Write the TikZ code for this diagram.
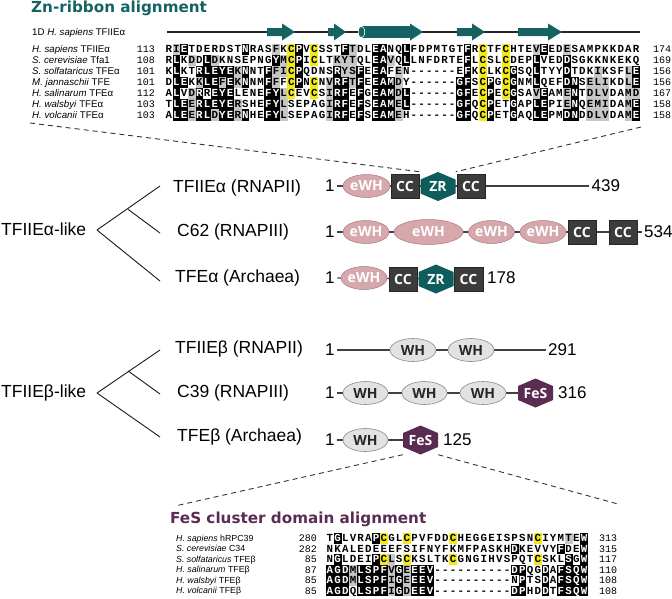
\documentclass[tikz,border=0pt]{standalone}
\usepackage{fontspec}
\setmainfont{Liberation Sans}
\newfontfamily\titlefont{DejaVu Sans}
\newfontfamily\resfont{Liberation Mono}
\newfontfamily\domfont{Open Sans}
\usetikzlibrary{shapes.geometric,backgrounds}

\definecolor{tealc}{RGB}{20,98,98}
\definecolor{hexteal}{RGB}{14,92,92}
\definecolor{fesc}{RGB}{90,44,82}
\definecolor{ewhfill}{RGB}{214,168,172}
\definecolor{ewhdraw}{RGB}{170,120,128}
\definecolor{ccfill}{RGB}{60,60,60}
\definecolor{whfill}{RGB}{226,226,224}
\definecolor{whdraw}{RGB}{140,140,140}
\definecolor{shgray}{RGB}{198,198,198}
\definecolor{shyel}{RGB}{242,234,20}
\definecolor{domline}{RGB}{64,64,64}

\newcount\alncol
\def\alncw{7.66}
\def\alnhw{3.9}
\def\alnhh{5.55}
\def\alnrow#1#2#3#4{\def\alnx{#1}\def\alny{#2}\global\alncol=0 \alnloop#3\relax#4..........\relax}
\def\alnloop#1#2\relax#3#4\relax{\alncell{#1}{#3}\global\advance\alncol by 1 \def\alntmp{#2}\ifx\alntmp\empty\else\alnloop#2\relax#4\relax\fi}
\def\alncell#1#2{%
  \pgfmathsetmacro\alncx{\alnx+\the\alncol*\alncw}%
  \def\alntc{black}%
  \ifx k#2\fill[black] (\alncx-\alnhw,\alny-\alnhh) rectangle (\alncx+\alnhw,\alny+\alnhh);\def\alntc{white}\fi
  \ifx g#2\fill[shgray] (\alncx-\alnhw,\alny-\alnhh) rectangle (\alncx+\alnhw,\alny+\alnhh);\fi
  \ifx y#2\fill[shyel] (\alncx-\alnhw,\alny-\alnhh) rectangle (\alncx+\alnhw,\alny+\alnhh);\fi
  \node[res,text=\alntc] at (\alncx,\alny+3.5) {#1};}

\newcommand\hexdom[5]{%
  \fill[#4] (#2,#3-14.5) -- (#2+17.5,#3-7) -- (#2+17.5,#3+7) -- (#2,#3+14.5) -- (#2-17.5,#3+7) -- (#2-17.5,#3-7) -- cycle;
  \node[hexl] (#1) at (#2,#3) {#5};}
\newcommand\ssarrow[3]{\fill[tealc] (#1,28) -- (#2,28) -- (#2,23.5) -- (#3,32) -- (#2,40.5) -- (#2,36) -- (#1,36) -- cycle;}

\begin{document}
\begin{tikzpicture}[x=1pt,y=-1pt,
  res/.style={inner sep=0pt, anchor=base, font=\resfont\bfseries\fontsize{10.8}{10.8}\selectfont},
  spl/.style={inner sep=0pt, anchor=base west, font=\fontsize{9.7}{11}\selectfont},
  spf/.style={inner sep=0pt, anchor=base west, font=\fontsize{8.8}{10}\selectfont},
  numr/.style={inner sep=0pt, anchor=base east, font=\resfont\fontsize{10}{10}\selectfont},
  numl/.style={inner sep=0pt, anchor=base west, font=\resfont\fontsize{10}{10}\selectfont},
  titl/.style={inner sep=0pt, anchor=base west, font=\titlefont\bfseries\fontsize{15.2}{16}\selectfont},
  big/.style={inner sep=2.5pt, anchor=west, font=\fontsize{17}{20}\selectfont},
  tlab/.style={inner sep=0pt, anchor=west, font=\fontsize{17.5}{20}\selectfont},
  dfont/.style={font=\domfont\bfseries\fontsize{14}{14}\selectfont},
  ewh/.style={ellipse, fill=ewhfill, draw=ewhdraw, line width=0.5pt, inner sep=0pt, minimum height=23pt, text=white, dfont},
  cc/.style={rectangle, fill=ccfill, draw=black!85, line width=0.6pt, minimum width=28pt, minimum height=24pt, inner sep=0pt, text=white, dfont},
  wh/.style={ellipse, fill=whfill, draw=whdraw, line width=0.6pt, inner sep=0pt, minimum height=23pt, text=black!85, dfont},
  hexl/.style={inner sep=0pt, minimum width=35pt, minimum height=29pt, text=white, dfont},
  domln/.style={draw=domline, line width=1.2pt},
  treeln/.style={draw=black!90, line width=0.9pt},
  dashln/.style={draw=black!80, line width=0.9pt, dash pattern=on 5pt off 4pt}]
\useasboundingbox (0,0) rectangle (672,598);

% ---------- Zn-ribbon alignment ----------
\node[titl,text=tealc] (znt) at (31,12.5) {Zn-ribbon alignment};
\node[spl] (ssl) at (32,35.3) {1D \textit{H. sapiens} TFIIEα};
\coordinate (ssa) at (167,32);
\coordinate (ssb) at (640,32);
\draw[line width=2.6pt, black!85] (ssa) -- (ssb);
\ssarrow{267}{282}{295}
\ssarrow{328}{334}{346}
\fill[tealc] (361,26.2) rectangle (411,37.8);
\filldraw[fill=tealc,draw=white,line width=0.6pt] (361.5,32) ellipse [x radius=3.2pt, y radius=5.8pt];
\fill[tealc] (410,23.5) -- (423,32) -- (410,40.5) -- cycle;
\ssarrow{457}{472}{485}
\ssarrow{518}{548}{562}

\node[spl] (zl1) at (32,52.8) {\textit{H. sapiens} TFIIEα};
\node[spl] (zl2) at (32,63.75) {\textit{S. cerevisiae} Tfa1};
\node[spl] (zl3) at (32,74.7) {\textit{S. solfataricus} TFEα};
\node[spl] (zl4) at (32,85.65) {\textit{M. jannaschii} TFE};
\node[spl] (zl5) at (32,96.6) {\textit{H. salinarum} TFEα};
\node[spl] (zl6) at (32,107.55) {\textit{H. walsbyi} TFEα};
\node[spl] (zl7) at (32,118.5) {\textit{H. volcanii} TFEα};
\node[numr] (zs1) at (155,52.8) {113};
\node[numr] (zs2) at (155,63.75) {108};
\node[numr] (zs3) at (155,74.7) {101};
\node[numr] (zs4) at (155,85.65) {101};
\node[numr] (zs5) at (155,96.6) {112};
\node[numr] (zs6) at (155,107.55) {103};
\node[numr] (zs7) at (155,118.5) {103};
\node[numl] (ze1) at (653,52.8) {174};
\node[numl] (ze2) at (653,63.75) {169};
\node[numl] (ze3) at (653,74.7) {156};
\node[numl] (ze4) at (653,85.65) {156};
\node[numl] (ze5) at (653,96.6) {167};
\node[numl] (ze6) at (653,107.55) {158};
\node[numl] (ze7) at (653,118.5) {158};

\alnrow{168.8}{49.3}{RIETDERDST NRASFKCPVC SSTFTDLEAN QLFDPMTGTF RCTFCHTEVE EDESAMPKKD AR}{.gk....... k...g.yk.y ...kg..kk. .k.......k .y..y...gk ..g....... ..}
\alnrow{168.8}{60.25}{RLKDDLDKNS EPNGYMCPIC LTKYTQLEAV QLLNFDRTEF LCSLCDEPLV EDDSGKKNKE KQ}{.k.g.kg... ....kgyk.y ..ggg..kkg .k.......k .y..y...k. ..k....... ..}
\alnrow{168.8}{71.2}{KLKTRLEYEK NNTFFICPQD NSRYSFEEAF EN------EF KCLKCGSQLT YYDTDKIKSF LE}{.k..kkkkkg k..kggyk.. ..kggk.kk. g........k .y..yk..k. ..k...g... gk}
\alnrow{168.8}{82.15}{DLEKKLEFEK NNMFFFCPNC NVRFTFEEAM DY------GF SCPGCGNMLQ EFDNSELIKD LE}{.kk.gkkgkg k..kg.yk.y .gkkgk.kkk g.......kk .yk.yk..k. ..kk.ggg.. gk}
\alnrow{168.8}{93.1}{ALVDRREYEL ENEFYLCEVC SIRFEFGEAM DL------GF ECPECGSAVE AMENTDLVDA MD}{.k.gk.kkk. ...kkgy..y .gkk.k.kkk gk......kk .yk.yk..gk ..gk.ggg.. gg}
\alnrow{168.8}{104.05}{TLEERLEYER SHEFYLSEPA GIRFEFSEAM EL------GF QCPETGAPLE PIENQEMIDA ME}{.kkgkkkkkg ...kkg.... .gkk.k.kkk gk......kk .yk..k..kk ..gk.ggg.. gk}
\alnrow{168.8}{115.0}{ALEERLDYER NHEFYLSEPA GIRFEFSEAM EH------GF QCPETGAQLE PMDNDDLVDA ME}{.kkgkkgkkg k..kkg.... .gkk.k.kkk g.......kk .yk..k..kk ..kk.ggg.. gk}

\coordinate (znbl) at (30,123);
\coordinate (znbr) at (641,127);

% ---------- TFIIE alpha-like ----------
\node[tlab] (ta) at (1,229) {TFIIEα-like};
\coordinate (tar) at (97,230);
\coordinate (tab) at (128,209.3);
\node[tlab] (ta1) at (173,188) {TFIIEα (RNAPII)};
\node[tlab] (ta2) at (177,232) {C62 (RNAPIII)};
\node[tlab] (ta3) at (175,278) {TFEα (Archaea)};
\draw[treeln] (tar) -- ([xshift=-13pt,yshift=2pt]ta1.west);
\draw[treeln] (tab) -- ([xshift=-17pt,yshift=-1pt]ta2.west);
\draw[treeln] (tar) -- ([xshift=-15pt,yshift=-3pt]ta3.west);

% row TFIIEalpha
\node[big] (a1) at (322.5,186) {1};
\node[ewh,minimum width=47pt] (a1e) at (366.5,186) {eWH};
\node[cc] (a1c1) at (405,186.5) {CC};
\hexdom{a1z}{438}{186.5}{hexteal}{ZR}
\node[cc] (a1c2) at (471,186.5) {CC};
\node[big] (a1n) at (589,186) {439};
% row C62
\node[big] (a2) at (322.5,232) {1};
\node[ewh,minimum width=46pt] (a2e1) at (366,232) {eWH};
\node[ewh,minimum width=69pt,minimum height=25pt] (a2e2) at (428.5,232) {eWH};
\node[ewh,minimum width=45pt] (a2e3) at (491.5,232) {eWH};
\node[ewh,minimum width=46pt] (a2e4) at (543,232) {eWH};
\node[cc] (a2c1) at (582,232) {CC};
\node[cc] (a2c2) at (623,232) {CC};
\node[big] (a2n) at (641.5,232) {534};
% row TFEalpha
\node[big] (a3) at (322.5,278) {1};
\node[ewh,minimum width=46pt] (a3e) at (364,278) {eWH};
\node[cc] (a3c1) at (403,279) {CC};
\hexdom{a3z}{436}{279}{hexteal}{ZR}
\node[cc,minimum width=29pt] (a3c2) at (468.5,279) {CC};
\node[big] (a3n) at (484.5,278) {178};

% ---------- TFIIE beta-like ----------
\node[tlab] (tb) at (1,393) {TFIIEβ-like};
\coordinate (tbr) at (97,393);
\coordinate (tbb) at (128,370.9);
\node[tlab] (tb1) at (175,349) {TFIIEβ (RNAPII)};
\node[tlab] (tb2) at (177,393) {C39 (RNAPIII)};
\node[tlab] (tb3) at (177,437) {TFEβ (Archaea)};
\draw[treeln] (tbr) -- ([xshift=-15pt,yshift=-1pt]tb1.west);
\draw[treeln] (tbb) -- ([xshift=-17pt,yshift=-1pt]tb2.west);
\draw[treeln] (tbr) -- ([xshift=-17pt]tb3.west);

% row TFIIEbeta
\node[big] (b1) at (322.5,350) {1};
\node[wh,minimum width=46pt] (b1w1) at (413,350) {WH};
\node[wh,minimum width=46pt] (b1w2) at (471,350) {WH};
\node[big] (b1n) at (545.5,350) {291};
% row C39
\node[big] (b2) at (322.5,393) {1};
\node[wh,minimum width=45pt] (b2w1) at (365.5,393) {WH};
\node[wh,minimum width=45pt] (b2w2) at (424.5,393) {WH};
\node[wh,minimum width=46pt] (b2w3) at (483,393) {WH};
\hexdom{b2f}{535.5}{393}{fesc}{FeS}
\node[big] (b2n) at (555.5,393) {316};
% row TFEbeta
\node[big] (b3) at (322.5,440) {1};
\node[wh,minimum width=45pt] (b3w) at (365.5,440) {WH};
\hexdom{b3f}{420.5}{440}{fesc}{FeS}
\node[big] (b3n) at (440.5,440) {125};

\begin{pgfonlayer}{background}
\draw[domln] (a1) -- (a1n);
\draw[domln] (a2) -- (a2n);
\draw[domln] (a3) -- (a3c2);
\draw[domln] (b1) -- (b1n);
\draw[domln] (b2) -- (b2f);
\draw[domln] (b3) -- (b3f);
\end{pgfonlayer}

% ---------- FeS alignment ----------
\node[titl,text=fesc] (fest) at (170,523) {FeS cluster domain alignment};
\node[spf] (fl1) at (176,541.3) {\textit{H. sapiens} hRPC39};
\node[spf] (fl2) at (176,551.8) {\textit{S. cerevisiae} C34};
\node[spf] (fl3) at (176,562.3) {\textit{S. solfataricus} TFEβ};
\node[spf] (fl4) at (176,572.8) {\textit{H. salinarum} TFEβ};
\node[spf] (fl5) at (176,583.3) {\textit{H. walsbyi} TFEβ};
\node[spf] (fl6) at (176,593.8) {\textit{H. volcanii} TFEβ};
\node[numr] (fs1) at (317,541.7) {280};
\node[numr] (fs2) at (317,552.2) {282};
\node[numr] (fs3) at (317,562.7) {85};
\node[numr] (fs4) at (317,573.2) {87};
\node[numr] (fs5) at (317,583.7) {85};
\node[numr] (fs6) at (317,594.2) {85};
\node[numl] (fe1) at (599,541.7) {313};
\node[numl] (fe2) at (599,552.2) {315};
\node[numl] (fe3) at (599,562.7) {117};
\node[numl] (fe4) at (599,573.2) {110};
\node[numl] (fe5) at (599,583.7) {108};
\node[numl] (fe6) at (599,594.2) {108};

\def\alncw{7.7}
\def\alnhh{5.3}
\alnrow{329.9}{538.3}{TGLVRAPCGL CPVFDDCHEG GEISPSNCIY MTEW}{.k....ky.. y.....y... .......y.. .g.k}
\alnrow{329.9}{548.8}{NKALEDEEEF SIFNYFKMFP ASKHDKEVVY FDEW}{.......... .......... ....k..... k..k}
\alnrow{329.9}{559.3}{NGLDEIPCLS CKSLTKCGNG IHVSPQTCSK LSGW}{.k....kyg. y.....y... .......y.. .k.k}
\alnrow{329.9}{569.8}{AGDMLSPFVG EEEV------ ----DPQGDA FSQW}{kkkgkkkkgk gkkk...... ....kk..k. kkkk}
\alnrow{329.9}{580.3}{AGDMLSPFIG EEEV------ ----NPTSDA FSQW}{kkkgkkkkgk gkkk...... .....k..k. kkkk}
\alnrow{329.9}{590.8}{AGDQLSPFIG DEEV------ ----DPHDDT FSQW}{kkk.kkkkgk gkkk...... ....kk..k. kkkk}

\coordinate (fesbl) at (175,506);
\coordinate (fesbr) at (618,504);

% ---------- dashed zoom lines ----------
\draw[dashln] (znbl) -- (a1z.north west);
\draw[dashln] (znbr) -- (a1z.north east);
\draw[dashln] (b3f.south west) -- (fesbl);
\draw[dashln] (b3f.south east) -- (fesbr);
\end{tikzpicture}
\end{document}
